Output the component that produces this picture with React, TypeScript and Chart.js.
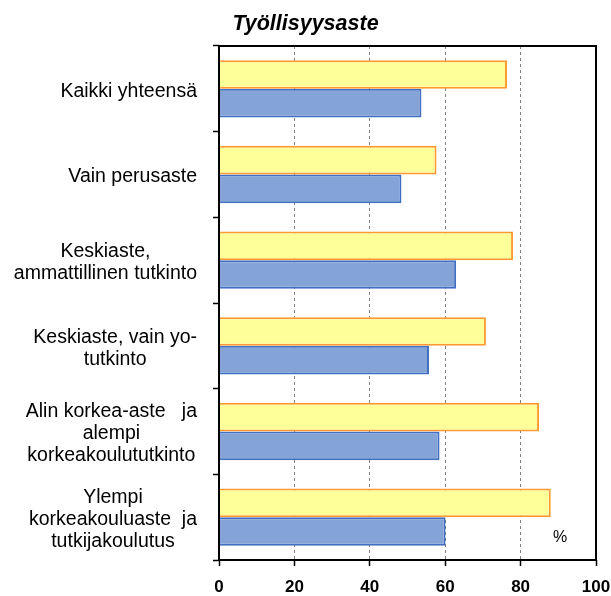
import React, { useEffect, useRef } from "react";
import { Chart, registerables } from "chart.js";

Chart.register(...registerables);

const TITLE = "Työllisyysaste";
const CATEGORIES: string[][] = [
  ["Kaikki yhteensä"],
  ["Vain perusaste"],
  ["Keskiaste,", "ammattillinen tutkinto"],
  ["Keskiaste, vain yo-", "tutkinto"],
  ["Alin korkea-aste   ja", "alempi", "korkeakoulututkinto"],
  ["Ylempi", "korkeakouluaste  ja", "tutkijakoulutus"],
];
const SERIES_YELLOW = [76.4, 57.7, 78.0, 70.8, 84.9, 88.0];
const SERIES_BLUE = [53.7, 48.4, 62.9, 55.7, 58.5, 60.1];
const X_TICKS = [0, 20, 40, 60, 80, 100];
const UNIT_LABEL = "%";

const FONT = "Arial, 'Liberation Sans', sans-serif";

const labelPlugin = {
  id: "blockLabels",
  afterDraw(chart: any) {
    const ctx = chart.ctx;
    const yScale = chart.scales.y;
    const area = chart.chartArea;
    ctx.save();
    ctx.font = `19.5px ${FONT}`;
    ctx.fillStyle = "#000";
    ctx.textBaseline = "middle";
    ctx.textAlign = "center";
    const right = area.left - 22;
    const lh = 22;
    CATEGORIES.forEach((lines, i) => {
      const cy = yScale.getPixelForValue(i) + 2.5;
      const w = Math.max(...lines.map((l) => ctx.measureText(l).width));
      const cx = right - w / 2;
      lines.forEach((line, j) => {
        ctx.fillText(line, cx, cy + (j - (lines.length - 1) / 2) * lh);
      });
    });
    // frame
    ctx.strokeStyle = "#000";
    ctx.lineWidth = 2;
    ctx.strokeRect(area.left, area.top, area.right - area.left, area.bottom - area.top);
    // unit label
    ctx.font = `16px ${FONT}`;
    ctx.textAlign = "center";
    ctx.fillText(UNIT_LABEL, chart.scales.x.getPixelForValue(90.5), area.bottom - 22);
    ctx.restore();
  },
};

export default function App() {
  const ref = useRef<HTMLCanvasElement>(null);
  useEffect(() => {
    document.body.style.margin = "0";
    const canvas = ref.current!;
    const chart = new Chart(canvas, {
      type: "bar",
      data: {
        labels: CATEGORIES.map((c) => c.join(" ")),
        datasets: [
          {
            data: SERIES_YELLOW,
            backgroundColor: "#FFFF99",
            borderColor: "#FF9933",
            borderWidth: 2,
            categoryPercentage: 0.67,
            barPercentage: 1,
          },
          {
            data: SERIES_BLUE,
            backgroundColor: "#84A4D8",
            borderColor: "#4270C0",
            borderWidth: 2,
            categoryPercentage: 0.67,
            barPercentage: 1,
          },
        ],
      },
      options: {
        indexAxis: "y",
        responsive: false,
        animation: false,
        devicePixelRatio: 1,
        layout: { padding: 0 },
        plugins: {
          legend: { display: false },
          tooltip: { enabled: false },
          title: {
            display: true,
            text: TITLE,
            color: "#000",
            font: { family: FONT, size: 21.5, style: "italic", weight: "bold", lineHeight: 1.2 },
            padding: { top: 11, bottom: 9.2 },
          },
        },
        scales: {
          x: {
            min: 0,
            max: 100,
            afterBuildTicks: (scale: any) => {
              scale.ticks = X_TICKS.map((v) => ({ value: v }));
            },
            afterFit: (scale: any) => {
              scale.height = 36;
              scale.paddingLeft = 0;
              scale.paddingRight = 15;
            },
            grid: {
              color: (c: any) =>
                c.tick && (c.tick.value === 0 || c.tick.value === 100) ? "rgba(0,0,0,0)" : "#808080",
              lineWidth: 1,
              drawTicks: true,
              tickLength: 6,
              tickColor: "#000",
              tickWidth: 1.5,
              tickBorderDash: [],
            },
            border: { display: false, dash: [3, 3] },
            ticks: {
              color: "#000",
              padding: 11,
              font: { family: FONT, size: 17, weight: "bold", lineHeight: 1.2 },
              maxRotation: 0,
            },
          },
          y: {
            afterFit: (scale: any) => {
              scale.width = 219;
            },
            grid: {
              offset: true,
              drawOnChartArea: false,
              drawTicks: true,
              tickLength: 6,
              tickColor: "#000",
              tickWidth: 1.5,
              color: "#000",
            },
            border: { display: false },
            ticks: { display: false },
          },
        },
      },
      plugins: [labelPlugin],
    });
    return () => chart.destroy();
  }, []);
  return (
    <div style={{ width: 611, height: 596 }}>
      <canvas ref={ref} width={611} height={596} style={{ display: "block" }} />
    </div>
  );
}
